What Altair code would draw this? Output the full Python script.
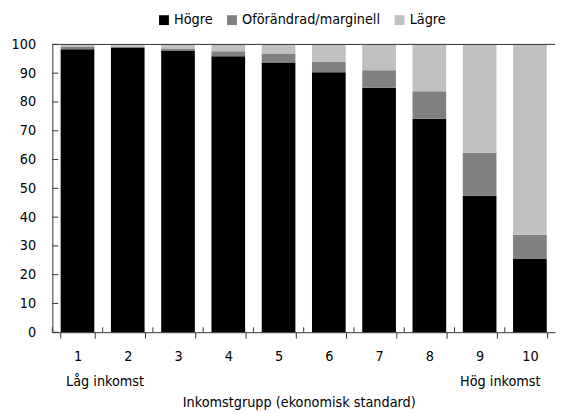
import altair as alt
import pandas as pd

groups = ["1", "2", "3", "4", "5", "6", "7", "8", "9", "10"]
hogre = [98.3, 98.9, 97.7, 95.9, 93.7, 90.3, 84.9, 74.2, 47.4, 25.4]
oforandrad = [0.8, 0.3, 0.9, 1.7, 3.1, 3.7, 6.1, 9.5, 15.0, 8.5]
lagre = [0.9, 0.8, 1.4, 2.4, 3.2, 6.0, 9.0, 16.3, 37.6, 66.1]
series = ["Högre", "Oförändrad/marginell", "Lägre"]
colors = ["#000000", "#808080", "#c0c0c0"]
y_ticks = [0, 10, 20, 30, 40, 50, 60, 70, 80, 90, 100]
end_groups = ["1", "10"]
end_labels = ["Låg inkomst", "Hög inkomst"]
x_title = "Inkomstgrupp (ekonomisk standard)"

rows = []
for i, g in enumerate(groups):
    for k, (name, vals) in enumerate(zip(series, [hogre, oforandrad, lagre])):
        rows.append({"grupp": g, "serie": name, "andel": vals[i], "ordning": k})
df = pd.DataFrame(rows)
gdf = pd.DataFrame({"grupp": groups})
ydf = pd.DataFrame({"v": y_ticks})
adf = pd.DataFrame({"grupp": end_groups, "text": end_labels})

W, H = 510, 292
FONT = "'DejaVu Sans Condensed', 'Liberation Sans Narrow', 'Roboto Condensed', 'Noto Sans', sans-serif"
FS = 14.5
AX = "#333333"

xscale = alt.Scale(domain=groups, paddingInner=0.33, paddingOuter=0.165)
yscale = alt.Scale(domain=[0, 100], nice=False)
x_axis = alt.Axis(title=x_title, labelAngle=0, tickBand="extent", tickSize=6,
                  labelPadding=12, titlePadding=33, titleX=250,
                  domainColor=AX, tickColor=AX, labelColor="black",
                  titleColor="black", titleFontWeight="normal",
                  labelFontSize=FS, titleFontSize=FS, labelFont=FONT, titleFont=FONT)
y_axis = alt.Axis(values=y_ticks, title=None, grid=False, tickSize=0, labelPadding=17,
                  domainColor=AX, labelColor="black", labelFontSize=FS, labelFont=FONT)

X = alt.X("grupp:N", scale=xscale, sort=groups, axis=x_axis)

bars = alt.Chart(df).mark_bar().encode(
    x=X,
    y=alt.Y("andel:Q", stack="zero", scale=yscale, axis=y_axis),
    color=alt.Color("serie:N", scale=alt.Scale(domain=series, range=colors),
                    legend=alt.Legend(orient="none", direction="horizontal", title=None,
                                      legendX=106, legendY=-32, symbolType="square",
                                      symbolSize=100, symbolStrokeWidth=0,
                                      labelFontSize=FS, labelFont=FONT, labelColor="black",
                                      labelOffset=3, columnPadding=12, padding=0)),
    order=alt.Order("ordning:Q", sort="ascending"),
)

yticks = alt.Chart(ydf).mark_rule(color=AX).encode(
    y=alt.Y("v:Q", scale=yscale, axis=y_axis),
    x=alt.value(0), x2=alt.value(6),
)

top_line = alt.Chart(ydf).transform_filter(alt.datum.v == 100).mark_rule(color=AX).encode(
    y=alt.Y("v:Q", scale=yscale, axis=y_axis),
    x=alt.value(0), x2=alt.value(W),
)

xticks = alt.Chart(gdf).mark_rule(color=AX, xOffset=-8.4).encode(
    x=alt.X("grupp:N", scale=xscale, sort=groups, axis=x_axis, bandPosition=0),
    y=alt.value(H - 5), y2=alt.value(H),
)

low = alt.Chart(adf).transform_filter(alt.datum.grupp == "1").mark_text(
    font=FONT, fontSize=FS, color="black", dx=28, baseline="middle").encode(
    x=alt.X("grupp:N", scale=xscale, sort=groups, axis=x_axis),
    y=alt.value(H + 51), text="text:N")
high = alt.Chart(adf).transform_filter(alt.datum.grupp == "10").mark_text(
    font=FONT, fontSize=FS, color="black", dx=-30, baseline="middle").encode(
    x=alt.X("grupp:N", scale=xscale, sort=groups, axis=x_axis),
    y=alt.value(H + 51), text="text:N")

chart = alt.layer(bars, yticks, top_line, xticks, low, high).properties(
    width=W, height=H,
    autosize=alt.AutoSizeParams(type="none"),
    padding={"left": 45, "top": 34, "right": 2, "bottom": 78},
).configure(font=FONT).configure_view(stroke=None)

chart.save("out.html", embed_options={"renderer": "svg", "actions": False})
